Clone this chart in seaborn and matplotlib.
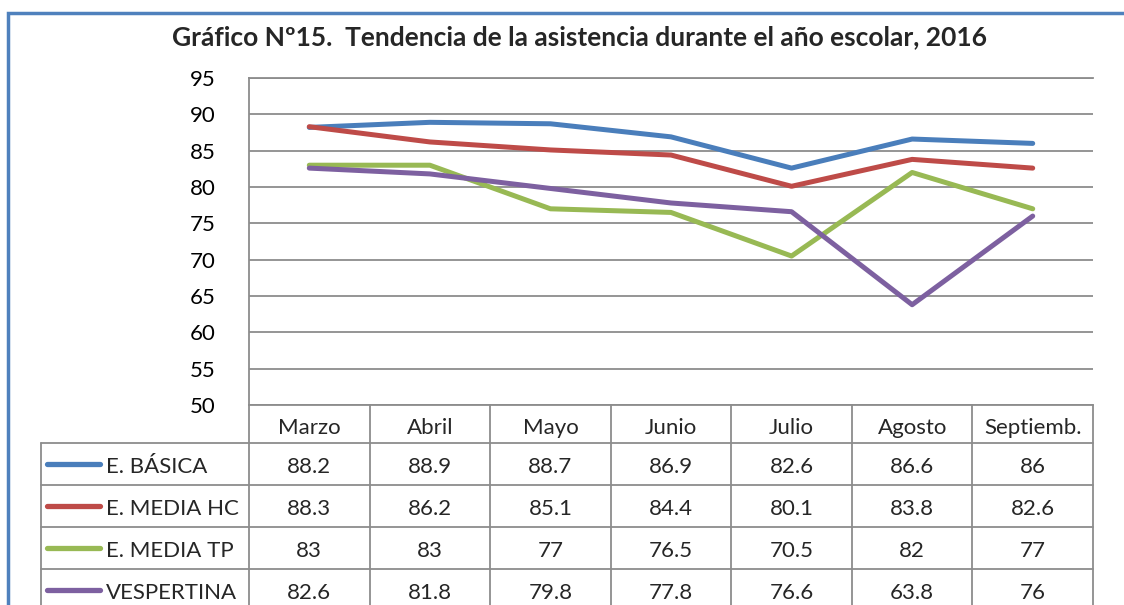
import matplotlib
matplotlib.use("Agg")
import matplotlib.pyplot as plt
import matplotlib.patches as mpatches
import pandas as pd
import seaborn as sns

TITLE = "Gráfico Nº15.  Tendencia de la asistencia durante el año escolar, 2016"
months = ["Marzo", "Abril", "Mayo", "Junio", "Julio", "Agosto", "Septiemb."]
series_names = ["E. BÁSICA", "E. MEDIA HC", "E. MEDIA TP", "VESPERTINA"]
basica = [88.2, 88.9, 88.7, 86.9, 82.6, 86.6, 86]
media_hc = [88.3, 86.2, 85.1, 84.4, 80.1, 83.8, 82.6]
media_tp = [83, 83, 77, 76.5, 70.5, 82, 77]
vespertina = [82.6, 81.8, 79.8, 77.8, 76.6, 63.8, 76]
colors = ["#4A7EBB", "#BE4B48", "#98B954", "#7D60A0"]

W, H = 1124, 605
GRID = "#8C8C8C"
FS = 16

sns.set_theme(style="white")
plt.rcParams["font.family"] = ["Lato", "DejaVu Sans"]

values = [basica, media_hc, media_tp, vespertina]
frame = pd.DataFrame(
    [
        {"mes": m, "pos": i, "serie": name, "valor": v}
        for name, vals in zip(series_names, values)
        for i, (m, v) in enumerate(zip(months, vals))
    ]
)

fig = plt.figure(figsize=(W / 100, H / 100), dpi=100)
fig.patch.set_facecolor("white")

# plot area (pixel geometry of the reference)
px_left, px_right, px_top, px_bottom = 249, 1093, 78, 405
ax = fig.add_axes([px_left / W, 1 - px_bottom / H, (px_right - px_left) / W, (px_bottom - px_top) / H])
sns.lineplot(
    data=frame,
    x="pos",
    y="valor",
    hue="serie",
    hue_order=series_names,
    palette=dict(zip(series_names, colors)),
    linewidth=3.6,
    sort=False,
    legend=False,
    ax=ax,
    solid_capstyle="round",
)
ax.set_xlim(-0.5, len(months) - 0.5)
ax.set_ylim(50, 95)
ax.set_yticks(range(50, 96, 5))
ax.set_xticks([])
ax.set_xlabel("")
ax.set_ylabel("")
ax.yaxis.grid(True, color=GRID, linewidth=1.3)
ax.set_axisbelow(True)
ax.tick_params(axis="y", labelsize=FS, pad=24, length=0, labelcolor="black")
ax.spines["right"].set_visible(False)
for side in ["left", "top", "bottom"]:
    ax.spines[side].set_color(GRID)
    ax.spines[side].set_linewidth(1.3)

# data table below the plot, sharing the month columns
col_w = (px_right - px_left) / len(months)
label_cols = (px_left - 41) / col_w
x_lab = -0.5 - label_cols
tax = fig.add_axes([41 / W, 0, (px_right - 41) / W, 1 - px_bottom / H])
tax.set_xlim(x_lab, len(months) - 0.5)
tax.set_ylim(H - px_bottom, 0)
tax.axis("off")

header_h, row_h = 38, 42
rows_y = [header_h + k * row_h for k in range(len(series_names) + 1)]
line_kw = dict(color=GRID, linewidth=1.3, clip_on=False)

for y in rows_y:
    tax.plot([x_lab, len(months) - 0.5], [y, y], **line_kw)
tax.plot([x_lab, x_lab], [header_h, rows_y[-1]], **line_kw)
for k in range(len(months) + 1):
    tax.plot([k - 0.5, k - 0.5], [0, rows_y[-1]], **line_kw)

for i, m in enumerate(months):
    tax.text(i, header_h / 2 + 4, m, ha="center", va="center", fontsize=FS)

px_unit = 1 / col_w
for r, (name, vals, c) in enumerate(zip(series_names, values, colors)):
    yc = header_h + r * row_h + row_h / 2 + 3
    tax.plot([x_lab + 6 * px_unit, x_lab + 59 * px_unit], [yc - 3, yc - 3],
             color=c, linewidth=3.8, solid_capstyle="round")
    tax.text(x_lab + 65 * px_unit, yc, name, ha="left", va="center", fontsize=FS)
    for i, v in enumerate(vals):
        tax.text(i, yc, f"{v:g}", ha="center", va="center", fontsize=FS)

fig.text(0.516, 1 - 37 / H, TITLE, ha="center", va="center", fontsize=19, fontweight="bold")

fig.add_artist(
    mpatches.Rectangle(
        (8 / W, -0.1), 1.2, 1 - 13 / H + 0.1,
        transform=fig.transFigure, fill=False, edgecolor="#4F81BD", linewidth=2.5,
    )
)

fig.savefig("out.png", dpi=100)
